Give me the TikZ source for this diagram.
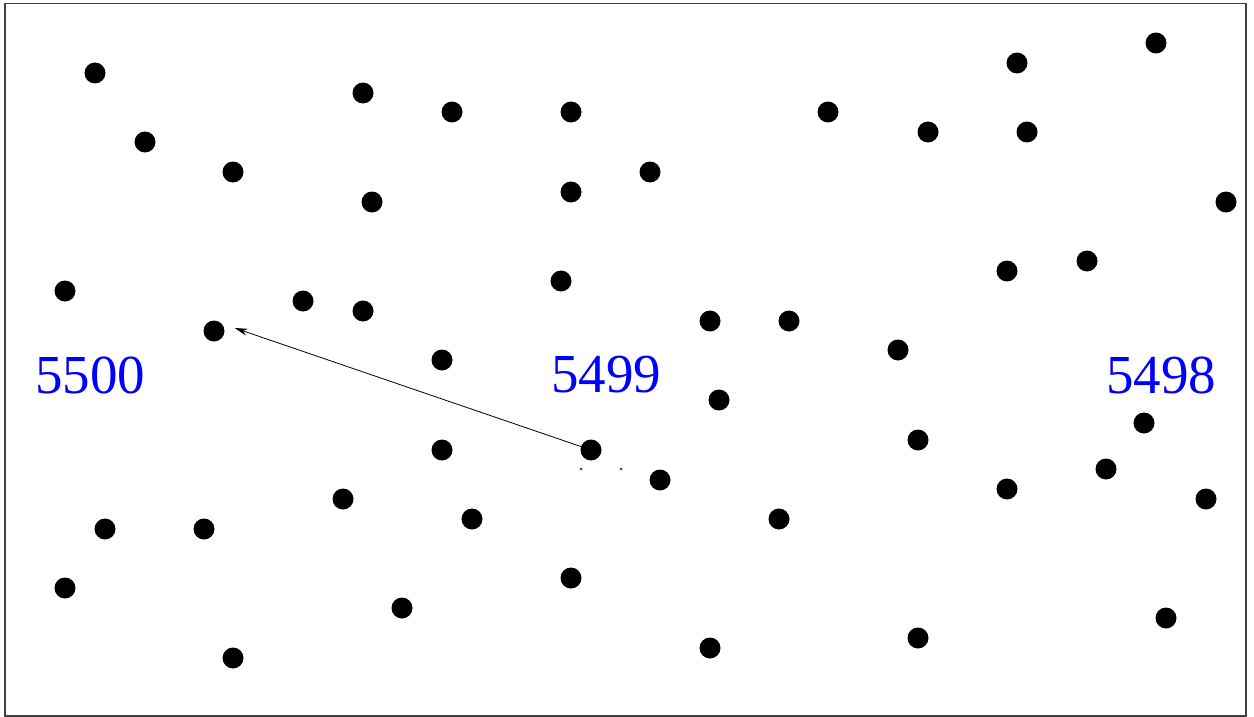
\documentclass[tikz,border=0pt]{standalone}
\usepackage{fontspec}
\setmainfont{Liberation Serif}
\usetikzlibrary{arrows.meta}
\begin{document}
\begin{tikzpicture}[x=1pt,y=-1pt,
  pt/.style={circle,fill=black,inner sep=0pt,minimum size=21pt},
  tiny/.style={circle,fill=black!70,inner sep=0pt,minimum size=3pt},
  lbl/.style={text=blue,font=\fontsize{55}{60}\selectfont,inner sep=0pt}]
\useasboundingbox (0,0) rectangle (1254,717);
\draw[line width=1.6pt,black!75] (5,3.5) rectangle (1246,716);
\foreach \x/\y [count=\i] in {95/73,145/142,233/172,363/93,452/112,571/112,372/202,571/192,650/172,828/112,928/132,1017/63,1027/132,1156/43,1226/202,65/291,303/301,363/311,561/281,710/321,789/321,1007/271,1087/261,898/350,442/360,719/400,918/440,1144/423,442/450,660/480,1007/489,1106/469,1206/499,343/499,472/519,779/519,105/529,204/529,65/588,571/578,402/608,1166/618,233/658,710/648,918/638}
  \node[pt] (p\i) at (\x,\y) {};
\node[pt] (a) at (214,331) {};
\node[pt] (b) at (591,450) {};
\node[tiny] (s1) at (581,469) {};
\node[tiny] (s2) at (621,469) {};
\draw[-{Stealth[length=13pt,width=7pt]},line width=0.8pt] (b) -- ([xshift=10pt,yshift=3pt]a.east);
\node[lbl] (l1) at (90,375) {5500};
\node[lbl] (l2) at (606,375) {5499};
\node[lbl] (l3) at (1161,375) {5498};
\end{tikzpicture}
\end{document}
